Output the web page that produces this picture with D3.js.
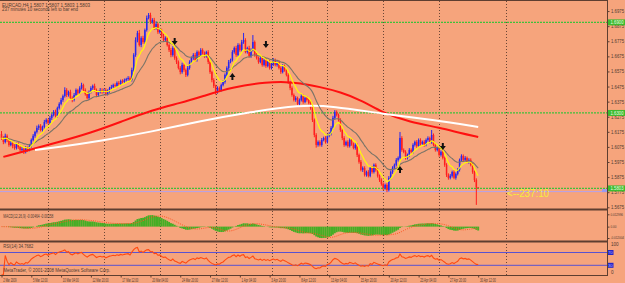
<!DOCTYPE html>
<html><head><meta charset="utf-8">
<script src="https://cdn.jsdelivr.net/npm/d3@7"></script>
<style>html,body{margin:0;padding:0;background:#f6a47c;overflow:hidden}svg{display:block;font-family:"Liberation Sans",Arial,sans-serif}</style>
</head><body><svg id="c" width="625" height="283"></svg>
<script>
// ---------------- DATA ----------------
const titleLine1 = "EURCAD,H4  1.5807 1.5807 1.5803 1.5803";
const titleLine2 = "237 minutes 10 seconds left to bar end";
const macdTitle = "MACD(12,26,9) -0.00464 -0.00158";
const rsiTitle = "RSI(14) 34.7682";
const copyright = "MetaTrader, \u00a9 2001-2008 MetaQuotes Software Corp.";
const timerLabel = "<--237:10";

const firstOpen = 1.6160;
const closes = [
1.6134,1.6108,1.6148,1.6121,1.6088,1.6101,1.6081,1.6068,1.6095,1.6075,1.6055,1.6062,1.6042,1.6068,1.6055,1.6081,
1.6121,1.6148,1.6174,1.6201,1.6214,1.6187,1.6207,1.6240,1.6254,1.6234,1.6267,1.6287,1.6307,1.6280,1.6333,1.6360,
1.6386,1.6412,1.6452,1.6419,1.6439,1.6399,1.6386,1.6419,1.6452,1.6432,1.6465,1.6485,1.6452,1.6426,1.6399,1.6439,
1.6465,1.6479,1.6452,1.6419,1.6439,1.6452,1.6439,1.6452,1.6426,1.6446,1.6465,1.6472,1.6485,1.6479,1.6499,1.6492,
1.6512,1.6505,1.6518,1.6525,1.6532,1.6518,1.6585,1.6684,1.6783,1.6830,1.6750,1.6796,1.6770,1.6849,1.6929,1.6949,
1.6902,1.6916,1.6863,1.6889,1.6836,1.6849,1.6810,1.6783,1.6796,1.6750,1.6717,1.6684,1.6730,1.6664,1.6638,1.6598,
1.6571,1.6618,1.6585,1.6552,1.6598,1.6638,1.6664,1.6684,1.6651,1.6704,1.6684,1.6717,1.6697,1.6677,1.6704,1.6638,
1.6571,1.6518,1.6479,1.6439,1.6465,1.6452,1.6485,1.6505,1.6552,1.6598,1.6638,1.6651,1.6704,1.6730,1.6684,1.6750,
1.6717,1.6770,1.6783,1.6704,1.6730,1.6677,1.6717,1.6770,1.6684,1.6664,1.6638,1.6664,1.6618,1.6651,1.6611,1.6638,
1.6598,1.6624,1.6651,1.6618,1.6638,1.6598,1.6571,1.6611,1.6585,1.6552,1.6505,1.6465,1.6419,1.6386,1.6399,1.6360,
1.6386,1.6412,1.6373,1.6399,1.6386,1.6366,1.6333,1.6254,1.6154,1.6088,1.6108,1.6088,1.6121,1.6134,1.6108,1.6148,
1.6161,1.6201,1.6267,1.6307,1.6287,1.6254,1.6187,1.6134,1.6088,1.6108,1.6081,1.6121,1.6095,1.6068,1.6088,1.6022,
1.5976,1.5923,1.5936,1.5890,1.5909,1.5883,1.5936,1.5909,1.5956,1.5923,1.5883,1.5856,1.5830,1.5803,1.5823,1.5790,
1.5870,1.5909,1.5936,1.5956,1.5989,1.6002,1.6134,1.6055,1.6042,1.6002,1.6022,1.6055,1.6042,1.6088,1.6108,1.6081,
1.6121,1.6095,1.6108,1.6088,1.6121,1.6134,1.6108,1.6154,1.6088,1.6055,1.6068,1.6022,1.6042,1.6002,1.5956,1.5890,
1.5870,1.5883,1.5909,1.5870,1.5896,1.5923,1.5989,1.6015,1.5989,1.6002,1.5976,1.5989,1.5956,1.5909,1.5856,1.5807,
1.5803];
// wick lengths in pips (0.0001) above the body and below the body
const upperWickPips = [
20,12,15,10,8,14,10,12,9,11,8,15,10,12,9,14,
10,12,8,15,10,12,9,14,11,8,13,10,12,15,9,11,
14,10,18,12,9,15,11,13,10,8,12,15,9,11,14,10,
12,9,15,10,8,13,11,9,12,10,8,14,9,11,10,12,
9,11,10,8,12,10,15,12,18,14,20,12,15,10,16,13,
15,12,14,18,10,12,9,15,11,13,10,14,12,9,11,10,
12,15,10,9,13,11,10,12,14,10,9,12,11,10,8,12,
10,9,12,8,11,10,9,12,10,11,13,9,12,10,15,12,
10,14,47,12,9,15,11,46,10,12,9,11,13,10,12,9,
11,10,12,9,13,10,11,12,9,10,12,8,11,10,12,9,
10,12,9,11,10,8,12,10,9,12,10,11,13,9,12,10,
11,12,14,12,10,9,11,10,12,9,11,10,12,9,11,10,
9,12,10,11,9,12,10,11,9,10,12,9,11,10,9,11,
12,10,11,9,12,10,40,12,10,11,9,12,10,11,9,12,
10,11,9,12,10,11,9,33,10,12,9,11,10,12,9,11,
10,12,9,11,10,12,9,11,10,12,9,11,10,12,9,11,
0];
const lowerWickPips = [
12,15,10,14,12,9,15,11,10,13,12,9,14,10,12,9,
11,9,12,10,14,9,11,10,12,9,11,13,10,9,12,10,
9,12,10,14,11,9,15,10,12,11,9,10,13,11,9,12,
10,12,9,14,11,10,12,9,11,10,12,9,10,11,9,12,
10,9,11,10,12,9,10,11,12,15,10,14,12,11,10,9,
12,10,13,11,12,10,14,11,12,10,13,15,11,12,14,10,
15,11,12,14,10,11,9,12,10,11,12,9,10,12,11,14,
12,15,13,18,11,12,10,9,11,10,12,9,10,11,12,10,
11,10,12,9,11,10,12,9,11,10,12,9,11,10,12,9,
11,10,12,9,11,10,12,9,11,10,12,14,11,10,12,9,
11,10,12,9,11,10,12,14,15,18,11,10,12,9,11,10,
9,10,11,12,10,11,12,14,12,9,11,10,12,9,11,14,
12,10,14,11,12,10,9,11,10,12,11,13,12,14,11,15,
10,11,12,9,10,11,10,12,9,11,10,12,9,11,10,12,
9,11,10,12,9,11,10,12,9,11,10,12,11,10,13,14,
12,10,11,9,12,10,11,9,10,11,9,12,10,12,14,116,
0];

// long moving averages (read at sample bars)
const redMAIdx = [1,15,31,48,64,81,96,107,124,143,153,160,171,182,193,205,219,236,246,256];
const redMAVal = [1.6009,1.6055,1.6108,1.6168,1.6240,1.6320,1.6366,1.6406,1.6472,1.6505,1.6505,1.6499,1.6472,1.6439,1.6386,1.6300,1.6240,1.6201,1.6168,1.6141];
const whiteMAIdx = [18,31,53,80,107,134,160,178,205,232,256];
const whiteMAVal = [1.6055,1.6075,1.6115,1.6174,1.6247,1.6307,1.6353,1.6346,1.6293,1.6254,1.6207];

// signal arrows
const downArrowIdx = [93,142,237];
const downArrowPrice = [1.6770,1.6750,1.6075];
const upArrowIdx = [124,214];
const upArrowPrice = [1.6545,1.5929];

// horizontal lines
const hLevels = [1.6900,1.6300,1.5800];
const hLevelLabels = ["1.6900","1.6300","1.5803"];
const askLevel = 1.5779;

// axes
const priceTicks = [1.6975,1.6875,1.6775,1.6675,1.6575,1.6475,1.6375,1.6275,1.6175,1.6075,1.5975,1.5875,1.5775,1.5675];
const timeLabelIdx = [0,16,32,48,64,80,96,112,128,144,160,176,192,208,224,240,256];
const timeLabels = ["2 Mar 2009","5 Mar 12:00","10 Mar 04:00","12 Mar 20:00","17 Mar 12:00","20 Mar 04:00","24 Mar 20:00","27 Mar 12:00","1 Apr 04:00","3 Apr 20:00","8 Apr 12:00","13 Apr 04:00","15 Apr 20:00","20 Apr 12:00","23 Apr 04:00","27 Apr 20:00","30 Apr 12:00"];
const weekStartIdx = [25,55,85,115,145,175,205,235,271];
const macdTicks = [0.012996,0,-0.012004];
const macdTickLabels = ["0.012996","0.00","-0.012004"];
const rsiLevels = [70,30];
const rsiTicks = [100,0];

// ---------------- DRAW ----------------
const svg = d3.select("#c");
const TXT = "#4e3a30", AX = "#5e3e30";
const n = closes.length;
const opens = closes.map((c,i)=> i===0 ? firstOpen : closes[i-1]);
const highs = closes.map((c,i)=> Math.max(opens[i],c) + upperWickPips[i]*0.0001);
const lows  = closes.map((c,i)=> Math.min(opens[i],c) - lowerWickPips[i]*0.0001);

const x = d3.scaleLinear().domain([0,256]).range([1.5,478.2]);
const y = d3.scaleLinear().domain([1.5667,1.7045]).range([208.5,0.5]);
const yM = d3.scaleLinear().domain([-0.012004,0.012996]).range([238,214.3]);
const yR = d3.scaleLinear().domain([0,100]).range([274.9,242.9]);

svg.append("rect").attr("width",625).attr("height",283).attr("fill","#f6a47c");
const defs = svg.append("defs");
defs.append("clipPath").attr("id","cm").append("rect").attr("x",0).attr("y",0.5).attr("width",607).attr("height",208);
defs.append("clipPath").attr("id","cs").append("rect").attr("x",0).attr("y",210.5).attr("width",607).attr("height",30);
defs.append("clipPath").attr("id","cr").append("rect").attr("x",0).attr("y",242.5).attr("width",607).attr("height",32.5);

// vertical grid
svg.append("g").selectAll("line").data(weekStartIdx).join("line")
  .attr("x1",d=>Math.round(x(d))+0.5).attr("x2",d=>Math.round(x(d))+0.5)
  .attr("y1",1).attr("y2",275).attr("stroke","#6a4636").attr("stroke-width",1)
  .attr("stroke-dasharray","1,2");

// ---- main window ----
const gm = svg.append("g").attr("clip-path","url(#cm)");
gm.selectAll("line.h").data(hLevels).join("line").attr("class","h")
  .attr("x1",0).attr("x2",607).attr("y1",d=>y(d)).attr("y2",d=>y(d))
  .attr("stroke","#3fc03a").attr("stroke-width",1.2).attr("stroke-dasharray","2,1");
gm.append("line").attr("x1",0).attr("x2",607).attr("y1",y(askLevel)).attr("y2",y(askLevel))
  .attr("stroke","#b4a2ea").attr("stroke-width",1);

const idx = d3.range(n);
const col = i => closes[i] >= opens[i] ? "#2626f0" : "#ff1e1e";
gm.append("g").selectAll("line").data(idx).join("line")
  .attr("x1",i=>x(i)).attr("x2",i=>x(i)).attr("y1",i=>y(highs[i])).attr("y2",i=>y(lows[i]))
  .attr("stroke",col).attr("stroke-width",1);
gm.append("g").selectAll("rect").data(idx).join("rect")
  .attr("x",i=>x(i)-0.75).attr("width",1.5)
  .attr("y",i=>y(Math.max(opens[i],closes[i])))
  .attr("height",i=>Math.max(0.8,Math.abs(y(opens[i])-y(closes[i]))))
  .attr("fill",col);

function ema(arr,p){const k=2/(p+1);const out=[];arr.forEach((v,i)=>out.push(i===0?v:out[i-1]+k*(v-out[i-1])));return out;}
const fastMA = ema(closes,8), midMA = ema(closes,21);
const lineIdx = d3.line().x((d,i)=>x(i)).y(d=>y(d)).curve(d3.curveMonotoneX);
gm.append("path").attr("d",d3.line().x((d,i)=>x(redMAIdx[i])).y(d=>y(d)).curve(d3.curveBasis)(redMAVal))
  .attr("fill","none").attr("stroke","#ff1010").attr("stroke-width",2);
gm.append("path").attr("d",d3.line().x((d,i)=>x(whiteMAIdx[i])).y(d=>y(d)).curve(d3.curveBasis)(whiteMAVal))
  .attr("fill","none").attr("stroke","#ffffff").attr("stroke-width",2);
gm.append("path").attr("d",lineIdx(midMA)).attr("fill","none").attr("stroke","#7a7468").attr("stroke-width",1.1);
gm.append("path").attr("d",lineIdx(fastMA)).attr("fill","none").attr("stroke","#ffff00").attr("stroke-width",1.1);

function arrow(cx,cy,down){
  const s = down?1:-1;
  return `M${cx-1},${cy-4*s} h2 v${3*s} h2 l-3,${4*s} l-3,${-4*s} h2 z`;
}
gm.append("g").selectAll("path").data(downArrowIdx).join("path")
  .attr("d",(d,i)=>arrow(x(d),y(downArrowPrice[i]),true)).attr("fill","#111");
gm.append("g").selectAll("path").data(upArrowIdx).join("path")
  .attr("d",(d,i)=>arrow(x(d),y(upArrowPrice[i]),false)).attr("fill","#111");

svg.append("text").attr("x",507).attr("y",196.5).attr("font-size",10).attr("fill","#f4ee3a")
  .attr("textLength",42).attr("lengthAdjust","spacingAndGlyphs").text(timerLabel);

function txt(xx,yy,s,len,size,fill){
  return svg.append("text").attr("x",xx).attr("y",yy).attr("font-size",size||4.5).attr("fill",fill||TXT)
    .attr("textLength",len).attr("lengthAdjust","spacingAndGlyphs").text(s);
}
txt(2,6.6,titleLine1,88);
txt(2,10.9,titleLine2,76);

// price axis
const pa = svg.append("g").attr("transform","translate(607.5,0)")
  .call(d3.axisRight(y).tickValues(priceTicks).tickSize(2).tickPadding(1.5).tickFormat(d3.format(".4f")));
pa.select(".domain").remove();
pa.selectAll("line").attr("stroke",AX);
pa.selectAll("text").attr("font-size",4.6).attr("fill",TXT).attr("textLength",13).attr("lengthAdjust","spacingAndGlyphs");

const lb = svg.append("g").selectAll("g").data(hLevels).join("g").attr("transform",d=>`translate(608,${y(d)})`);
lb.append("rect").attr("x",0).attr("y",-3).attr("width",17).attr("height",6).attr("fill","#3dbb30");
lb.append("text").attr("x",2.5).attr("y",1.7).attr("font-size",4.6).attr("fill","#e8ffe0")
  .attr("textLength",13).attr("lengthAdjust","spacingAndGlyphs").text((d,i)=>hLevelLabels[i]);
svg.append("rect").attr("x",602).attr("y",y(askLevel)-2.5).attr("width",5).attr("height",3).attr("fill","#9a9af0");

// ---- MACD window ----
const ema12 = ema(closes,12), ema26 = ema(closes,26);
const macdMain = ema12.map((v,i)=>v-ema26[i]);
const macdSig = macdMain.map((v,i)=>d3.mean(macdMain.slice(Math.max(0,i-8),i+1)));
const gs = svg.append("g").attr("clip-path","url(#cs)");
gs.append("g").selectAll("rect").data(idx).join("rect")
  .attr("x",i=>x(i)-0.95).attr("width",1.9)
  .attr("y",i=>Math.min(yM(0),yM(macdMain[i])))
  .attr("height",i=>Math.abs(yM(macdMain[i])-yM(0)))
  .attr("fill","#45ae25");
gs.append("path").attr("d",d3.line().x((d,i)=>x(i)).y(d=>yM(d))(macdSig))
  .attr("fill","none").attr("stroke","#ff5522").attr("stroke-width",1).attr("stroke-dasharray","1,1.2");
const ma = svg.append("g").attr("transform","translate(607.5,0)")
  .call(d3.axisRight(yM).tickValues(macdTicks).tickSize(2).tickPadding(1).tickFormat((d,i)=>macdTickLabels[i]));
ma.select(".domain").remove();
ma.selectAll("line").attr("stroke",AX);
ma.selectAll("text").attr("font-size",3).attr("fill",TXT);
txt(3.3,217.6,macdTitle,50);

// ---- RSI window ----
const rsi = [];
let ag=0, al=0;
closes.forEach((c,i)=>{
  if(i===0){rsi.push(null);return;}
  const d=c-closes[i-1], g=Math.max(d,0), l=Math.max(-d,0);
  if(i<=14){ag=(ag*(i-1)+g)/i; al=(al*(i-1)+l)/i;}
  else {ag=(ag*13+g)/14; al=(al*13+l)/14;}
  rsi.push(al===0?100:100-100/(1+ag/al));
});
rsi[0]=rsi[1];
const gr = svg.append("g").attr("clip-path","url(#cr)");
gr.selectAll("line").data(rsiLevels).join("line").attr("x1",0).attr("x2",607)
  .attr("y1",d=>yR(d)).attr("y2",d=>yR(d)).attr("stroke","#5a52d0").attr("stroke-width",1);
gr.append("path").attr("d",d3.line().x((d,i)=>x(i)).y(d=>yR(d))(rsi))
  .attr("fill","none").attr("stroke","#ff4a10").attr("stroke-width",1.1);
const ra = svg.append("g").attr("transform","translate(607.5,0)")
  .call(d3.axisRight(yR).tickValues(rsiTicks).tickSize(0).tickPadding(3.5).tickFormat(d3.format("d")));
ra.select(".domain").remove();
ra.selectAll("text").attr("font-size",4.6).attr("fill",TXT).attr("dy",d=>d===100?"2.4":"-1.6");
const rb = svg.append("g").selectAll("g").data(rsiLevels).join("g").attr("transform",d=>`translate(607,${yR(d)})`);
rb.append("rect").attr("x",0).attr("y",-2.5).attr("width",6.5).attr("height",5).attr("fill","#2424c8");
rb.append("text").attr("x",1).attr("y",1.6).attr("font-size",4.2).attr("fill","#b8b8ff").text(d=>d);
txt(3.3,248.4,rsiTitle,30);
txt(3.3,272.4,copyright,107);

// ---- frame lines ----
const fr = svg.append("g").attr("stroke",AX).attr("fill","none");
fr.append("line").attr("x1",0).attr("x2",607.5).attr("y1",0.5).attr("y2",0.5).attr("stroke-width",1);
fr.append("line").attr("x1",0).attr("x2",607.5).attr("y1",209.5).attr("y2",209.5).attr("stroke-width",2);
fr.append("line").attr("x1",0).attr("x2",607.5).attr("y1",241.5).attr("y2",241.5).attr("stroke-width",2);
fr.append("line").attr("x1",0).attr("x2",607.5).attr("y1",275.5).attr("y2",275.5).attr("stroke-width",1);
fr.append("line").attr("x1",607.5).attr("x2",607.5).attr("y1",0).attr("y2",276).attr("stroke-width",1);

// ---- time axis ----
const ta = svg.append("g").attr("transform","translate(0,275.5)")
  .call(d3.axisBottom(x).tickValues(timeLabelIdx).tickSize(2).tickPadding(1).tickFormat((d,i)=>timeLabels[i]));
ta.select(".domain").remove();
ta.selectAll("line").attr("stroke",AX);
ta.selectAll("text").attr("font-size",4.6).attr("fill",TXT).attr("text-anchor","start").attr("x",1.2)
  .attr("textLength",(d,i)=>timeLabels[i].length*1.33).attr("lengthAdjust","spacingAndGlyphs");
</script></body></html>
